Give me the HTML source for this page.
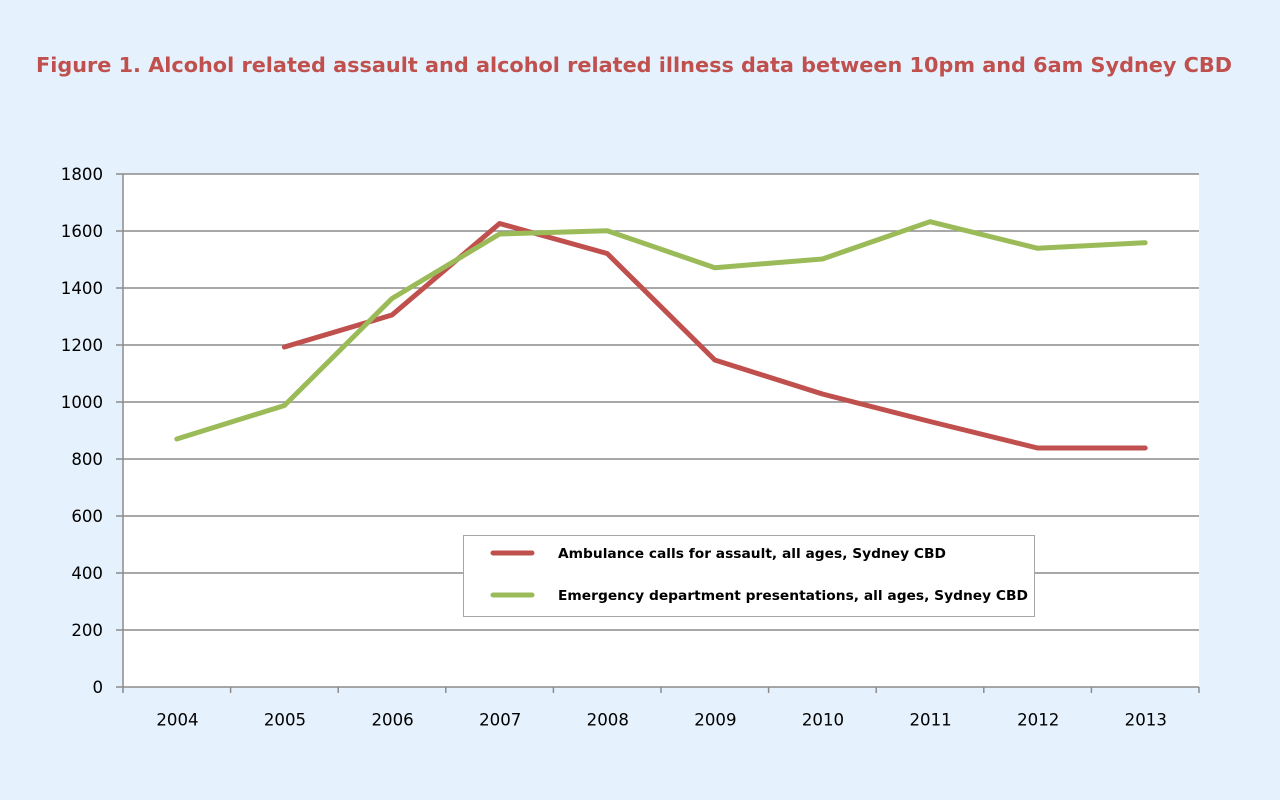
<!DOCTYPE html>
<html><head><meta charset="utf-8"><style>
html,body{margin:0;padding:0;background:#e5f1fd;}
svg{display:block;}
</style></head><body>
<svg width="1280" height="800" viewBox="0 0 1280 800" xmlns="http://www.w3.org/2000/svg">
<rect width="1280" height="800" fill="#e5f1fd"/>
<text x="36" y="72" font-family="DejaVu Sans, Verdana, sans-serif" font-weight="bold" font-size="20.5" fill="#c0504d" textLength="1196" lengthAdjust="spacingAndGlyphs">Figure 1. Alcohol related assault and alcohol related illness data between 10pm and 6am Sydney CBD</text>
<rect x="123" y="174" width="1076" height="513" fill="#ffffff"/>
<g stroke="#8c8c8c" stroke-width="1.5">
<line x1="116" y1="174" x2="1199" y2="174"/>
<line x1="116" y1="231" x2="1199" y2="231"/>
<line x1="116" y1="288" x2="1199" y2="288"/>
<line x1="116" y1="345" x2="1199" y2="345"/>
<line x1="116" y1="402" x2="1199" y2="402"/>
<line x1="116" y1="459" x2="1199" y2="459"/>
<line x1="116" y1="516" x2="1199" y2="516"/>
<line x1="116" y1="573" x2="1199" y2="573"/>
<line x1="116" y1="630" x2="1199" y2="630"/>
<line x1="116" y1="687" x2="1199" y2="687"/>
<line x1="123" y1="174" x2="123" y2="693"/>
<line x1="230.6" y1="687" x2="230.6" y2="693"/>
<line x1="338.2" y1="687" x2="338.2" y2="693"/>
<line x1="445.8" y1="687" x2="445.8" y2="693"/>
<line x1="553.4" y1="687" x2="553.4" y2="693"/>
<line x1="661" y1="687" x2="661" y2="693"/>
<line x1="768.6" y1="687" x2="768.6" y2="693"/>
<line x1="876.2" y1="687" x2="876.2" y2="693"/>
<line x1="983.8" y1="687" x2="983.8" y2="693"/>
<line x1="1091.4" y1="687" x2="1091.4" y2="693"/>
<line x1="1199" y1="687" x2="1199" y2="693"/>
</g>
<g font-family="DejaVu Sans, Verdana, sans-serif" font-size="16.6" fill="#000" text-anchor="end">
<text x="103" y="180">1800</text>
<text x="103" y="237">1600</text>
<text x="103" y="294">1400</text>
<text x="103" y="351">1200</text>
<text x="103" y="408">1000</text>
<text x="103" y="465">800</text>
<text x="103" y="522">600</text>
<text x="103" y="579">400</text>
<text x="103" y="636">200</text>
<text x="103" y="693">0</text>
</g>
<g font-family="DejaVu Sans, Verdana, sans-serif" font-size="16.6" fill="#000" text-anchor="middle">
<text x="177.5" y="725.5">2004</text>
<text x="285" y="725.5">2005</text>
<text x="392.6" y="725.5">2006</text>
<text x="500.2" y="725.5">2007</text>
<text x="607.8" y="725.5">2008</text>
<text x="715.4" y="725.5">2009</text>
<text x="823" y="725.5">2010</text>
<text x="930.6" y="725.5">2011</text>
<text x="1038.2" y="725.5">2012</text>
<text x="1145.8" y="725.5">2013</text>
</g>
<polyline fill="none" stroke="#c0504d" stroke-width="5" stroke-linejoin="round" stroke-linecap="round" points="284.4,347 392,315 499.6,223.5 607.2,253.5 714.8,360 822.4,394 930,421.5 1037.6,448 1145.2,448"/>
<polyline fill="none" stroke="#9bbb59" stroke-width="5" stroke-linejoin="round" stroke-linecap="round" points="176.8,439 284.4,405.5 392,298.5 499.6,234 607.2,230.7 714.8,267.7 822.4,259 930,221.7 1037.6,248.3 1145.2,242.7"/>
<rect x="463.5" y="535.5" width="571" height="81" fill="#ffffff" stroke="#a6a6a6" stroke-width="1"/>
<line x1="493" y1="553" x2="532" y2="553" stroke="#c0504d" stroke-width="5" stroke-linecap="round"/>
<line x1="493" y1="595" x2="532" y2="595" stroke="#9bbb59" stroke-width="5" stroke-linecap="round"/>
<g font-family="DejaVu Sans, Verdana, sans-serif" font-weight="bold" font-size="13.5" fill="#000">
<text x="558" y="558" textLength="388" lengthAdjust="spacingAndGlyphs">Ambulance calls for assault, all ages, Sydney CBD</text>
<text x="558" y="600" textLength="470" lengthAdjust="spacingAndGlyphs">Emergency department presentations, all ages, Sydney CBD</text>
</g>
</svg>
</body></html>
